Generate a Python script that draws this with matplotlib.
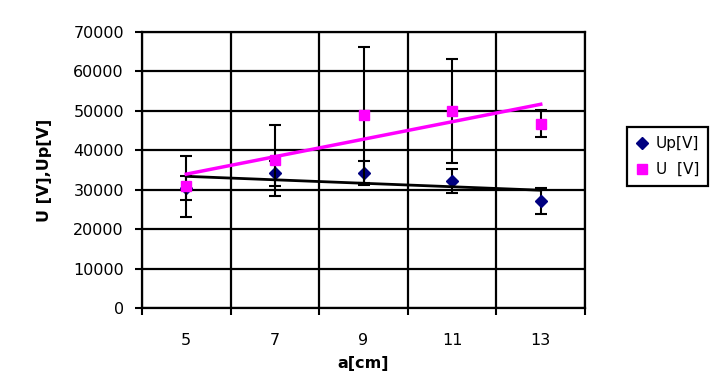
import numpy as np
import matplotlib
matplotlib.use("Agg")
import matplotlib.pyplot as plt
from matplotlib.lines import Line2D

# values
a_cm = ["5", "7", "9", "11", "13"]
up_v = [30500, 34200, 34200, 32200, 27100]
up_err = [3000, 3200, 3000, 3000, 3300]
u_v = [30900, 37500, 48900, 50000, 46800]
u_err = [7700, 9000, 17300, 13200, 3500]

plt.rcParams['font.family'] = ['DejaVu Sans']

fig = plt.figure(figsize=(7.1, 3.77), dpi=100)
ax = fig.add_axes([0.2, 0.183, 0.624, 0.732])

x = np.arange(len(a_cm))

ax.errorbar(x, up_v, yerr=up_err, fmt='D', color='#000080', ms=6,
            ecolor='black', elinewidth=1.5, capsize=4.5, capthick=1.5,
            zorder=3)
ax.errorbar(x, u_v, yerr=u_err, fmt='s', color='#FF00FF', ms=7,
            ecolor='black', elinewidth=1.5, capsize=4.5, capthick=1.5,
            zorder=4)

# linear trendlines, as in the spreadsheet
k1, b1 = np.polyfit(x, up_v, 1)
ax.plot(x[[0, -1]], k1 * x[[0, -1]] + b1, color='black', lw=2, zorder=5)
k2, b2 = np.polyfit(x, u_v, 1)
ax.plot(x[[0, -1]], k2 * x[[0, -1]] + b2, color='#FF00FF', lw=2.5, zorder=5)

ax.set_xlim(-0.5, len(a_cm) - 0.5)
ax.set_ylim(0, 70000)
ax.set_yticks(range(0, 70001, 10000))
ax.set_xticks(x)
ax.set_xticklabels(a_cm)
ax.set_xticks(np.arange(-0.5, len(a_cm), 1), minor=True)

ax.grid(True, axis='y', color='black', lw=1.6)
ax.grid(True, axis='x', which='minor', color='black', lw=1.6)
ax.set_axisbelow(True)
for s in ax.spines.values():
    s.set_linewidth(1.6)
    s.set_color('black')

ax.tick_params(axis='y', direction='out', length=5, width=1.5, pad=8, labelsize=11.5)
ax.tick_params(axis='x', which='major', length=0, pad=18, labelsize=11.5)
ax.tick_params(axis='x', which='minor', direction='out', length=5, width=1.5)

ax.set_xlabel('a[cm]', fontsize=11.5, fontweight='bold', labelpad=6)
ax.set_ylabel('U [V],Up[V]', fontsize=11.5, fontweight='bold', labelpad=15)

handles = [
    Line2D([], [], ls='none', marker='D', color='#000080', ms=6),
    Line2D([], [], ls='none', marker='s', color='#FF00FF', ms=7),
]
leg = fig.legend(handles, ['Up[V]', 'U  [V]'], loc='upper left',
                 bbox_to_anchor=(0.883, 0.663), fontsize=11,
                 frameon=True, fancybox=False, framealpha=1,
                 handlelength=0.8, handletextpad=0.5, borderpad=0.6,
                 labelspacing=0.7, borderaxespad=0)
leg.get_frame().set_edgecolor('black')
leg.get_frame().set_linewidth(1.6)

fig.savefig('out.png', dpi=100)
